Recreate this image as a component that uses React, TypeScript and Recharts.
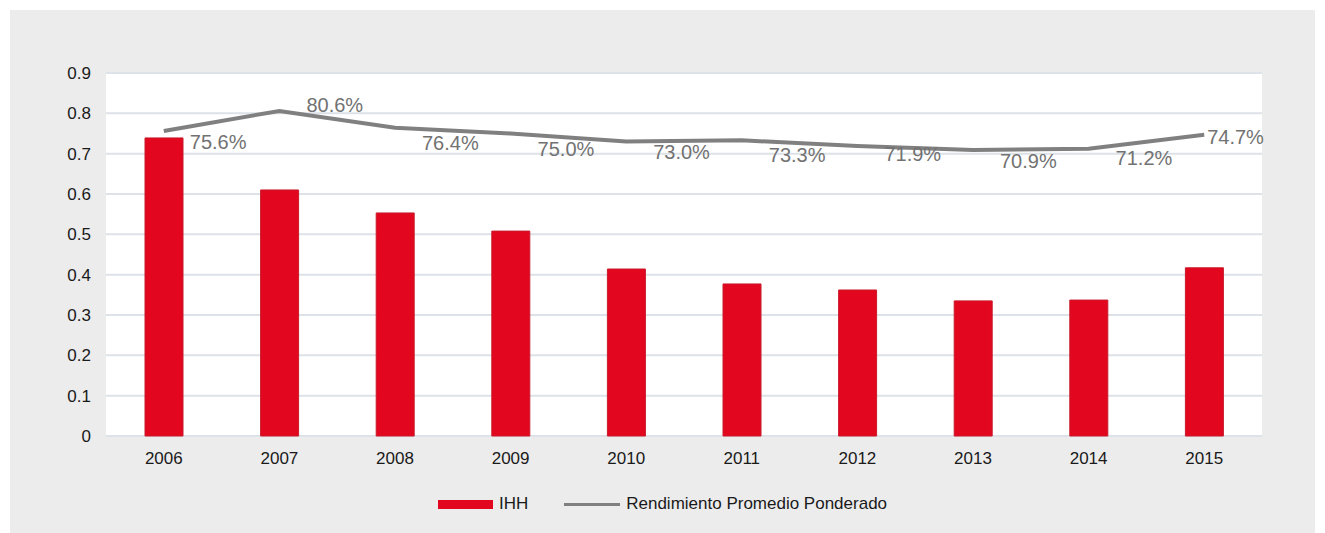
import React from "react";
import { ComposedChart, Bar, Line, XAxis, YAxis, CartesianGrid, Legend, LabelList } from "recharts";

const years = ["2006", "2007", "2008", "2009", "2010", "2011", "2012", "2013", "2014", "2015"];
const ihh = [0.739, 0.61, 0.553, 0.508, 0.414, 0.377, 0.362, 0.335, 0.337, 0.417];
const rendimiento = [0.756, 0.806, 0.764, 0.75, 0.73, 0.733, 0.719, 0.709, 0.712, 0.747];
const yTicks = [0, 0.1, 0.2, 0.3, 0.4, 0.5, 0.6, 0.7, 0.8, 0.9];

// label placement offsets (relative to line point)
const labelDx = [26, 27, 27, 27, 27, 27, 27, 27, 27, 3];
const labelDy = [10.6, -6, 15.4, 15.5, 10.4, 14.6, 8, 10.9, 9.1, 2];

const data = years.map((y, i) => ({ year: y, ihh: ihh[i], rend: rendimiento[i] }));

const FONT = '"Liberation Sans", Arial, sans-serif';

const PctLabel = (props: any) => {
  const { x, y, value, index } = props;
  return (
    <text
      x={x + labelDx[index]}
      y={y + labelDy[index]}
      textAnchor="start"
      dominantBaseline="central"
      fill="#727272"
      fontSize={20}
      fontFamily={FONT}
    >
      {(value * 100).toFixed(1) + "%"}
    </text>
  );
};

const LegendContent = () => (
  <div
    style={{
      height: 30,
      display: "flex",
      alignItems: "center",
      justifyContent: "center",
      fontFamily: FONT,
      fontSize: 17,
      color: "#1a1a1a",
    }}
  >
    <div style={{ width: 55, height: 9, background: "#e2061f", marginRight: 6 }} />
    <span style={{ marginRight: 36 }}>IHH</span>
    <div style={{ width: 56, height: 3, background: "#808080", marginRight: 6 }} />
    <span>Rendimiento Promedio Ponderado</span>
  </div>
);

export default function App() {
  return (
    <div
      style={{
        position: "absolute",
        left: 10,
        top: 10,
        width: 1305,
        height: 523,
        background: "#ececec",
      }}
    >
      <ComposedChart
        width={1305}
        height={523}
        data={data}
        margin={{ top: 63, right: 53, bottom: 14, left: 0 }}
      >
        <CartesianGrid
          vertical={false}
          stroke="#dce2e7"
          strokeWidth={2}
          fill="#ffffff"
        />
        <XAxis
          dataKey="year"
          axisLine={false}
          tickLine={false}
          tickSize={0}
          tickMargin={16}
          height={53}
          tick={{ fill: "#1a1a1a", fontSize: 17, fontFamily: FONT }}
          interval={0}
        />
        <YAxis
          domain={[0, 0.9]}
          ticks={yTicks}
          axisLine={false}
          tickLine={false}
          tickSize={0}
          tickMargin={15}
          width={96}
          tick={{ fill: "#1a1a1a", fontSize: 17, fontFamily: FONT }}
          tickFormatter={(v: number) => String(Math.round(v * 10) / 10)}
        />
        <Legend
          verticalAlign="bottom"
          content={<LegendContent />}
          wrapperStyle={{ left: 0, width: 1305 }}
        />
        <Bar
          dataKey="ihh"
          name="IHH"
          fill="#e2061f"
          stroke="#c91a2a"
          strokeWidth={1}
          barSize={38}
          isAnimationActive={false}
        />
        <Line
          dataKey="rend"
          name="Rendimiento Promedio Ponderado"
          stroke="#808080"
          strokeWidth={4}
          dot={false}
          activeDot={false}
          isAnimationActive={false}
        >
          <LabelList dataKey="rend" content={<PctLabel />} />
        </Line>
      </ComposedChart>
    </div>
  );
}
